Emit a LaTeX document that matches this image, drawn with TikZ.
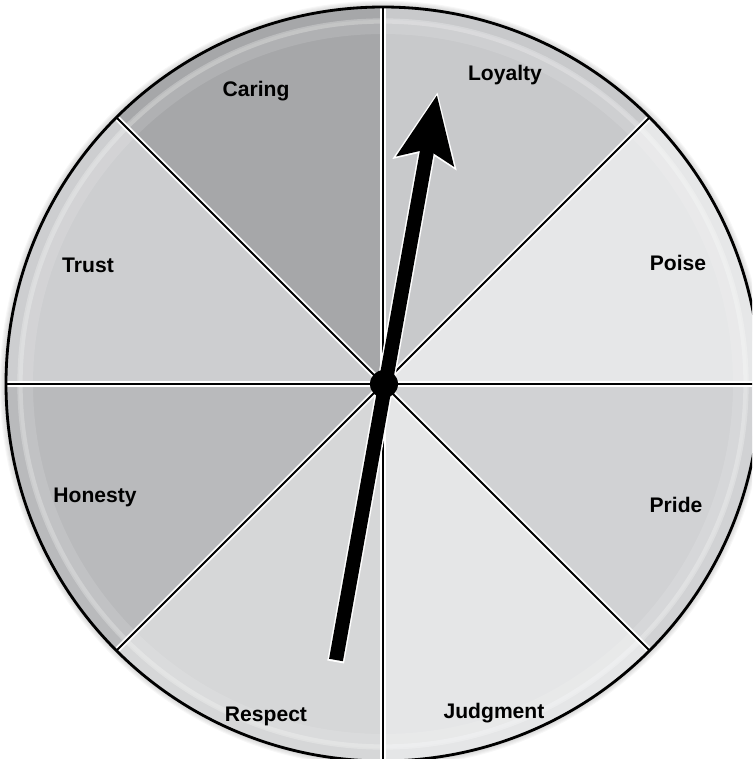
\documentclass[tikz,border=0pt]{standalone}
\usepackage{fontspec}
\setmainfont{Liberation Sans}
\usepackage{xcolor}
\usepackage{tikz}
\usetikzlibrary{arrows.meta, calc}

\definecolor{slLoyalty}{HTML}{C8C9CB}
\definecolor{slPoise}{HTML}{E6E7E8}
\definecolor{slPride}{HTML}{D1D2D4}
\definecolor{slJudgment}{HTML}{E5E6E7}
\definecolor{slRespect}{HTML}{D6D7D8}
\definecolor{slHonesty}{HTML}{B9BABC}
\definecolor{slTrust}{HTML}{CDCED0}
\definecolor{slCaring}{HTML}{A6A7A9}

\tikzset{
    word/.style={font=\fontsize{6}{7}\selectfont\bfseries, inner sep=0pt},
    spoke/.style={line width=0.6pt},
}

\begin{document}
\begin{tikzpicture}[>=latex]
    \def\R{3.77}
    % Khung hình
    \useasboundingbox (-3.83,-3.75) rectangle (3.69,3.84);
    \clip (-3.83,-3.75) rectangle (3.69,3.84);

    % Bóng mờ quanh vòng
    \foreach \k in {1,...,6}
        \draw[black, opacity=0.03, line width=\k*0.6pt] (0,0) circle (\R);

    % Các ô màu
    \foreach \a/\c in {0/slPoise, 45/slLoyalty, 90/slCaring, 135/slTrust,
                       180/slHonesty, 225/slRespect, 270/slJudgment, 315/slPride}
        \fill[\c] (0,0) -- (\a:\R) arc (\a:\a+45:\R) -- cycle;

    % Vòng sáng gần mép
    \draw[white, opacity=0.25, line width=1.5pt] (0,0) circle (\R-0.14);
    \draw[white, opacity=0.12, line width=4pt] (0,0) circle (\R-0.2);

    % Nan hoa
    \foreach \a in {0,45,...,315} {
        \coordinate (rim\a) at (\a:\R);
        \draw[white, line width=1.6pt] (0,0) -- (rim\a);
        \draw[spoke] (0,0) -- (rim\a);
    }

    % Vành ngoài
    \draw[line width=0.8pt] (0,0) circle (\R);

    % Chữ
    \node[word] (caring)   at (-1.27, 2.93) {Caring};
    \node[word] (loyalty)  at ( 1.22, 3.09) {Loyalty};
    \node[word] (poise)    at ( 2.95, 1.21) {Poise};
    \node[word] (trust)    at (-2.95, 1.19) {Trust};
    \node[word] (honesty)  at (-2.88,-1.13) {Honesty};
    \node[word] (pride)    at ( 2.93,-1.21) {Pride};
    \node[word] (respect)  at (-1.17,-3.32) {Respect};
    \node[word] (judgment) at ( 1.11,-3.29) {Judgment};

    % Kim quay
    \coordinate (tail) at (-0.47,-2.76);
    \coordinate (tip)  at ( 0.54, 2.89);
    \draw[white, line width=0.17cm, -{Stealth[length=0.72cm, width=0.62cm, inset=0.12cm]}]
        ($(tail)!-0.02cm!(tip)$) -- ($(tip)!-0.03cm!(tail)$);
    \draw[black, line width=0.14cm, -{Stealth[length=0.66cm, width=0.56cm, inset=0.11cm]}]
        (tail) -- (tip);

    % Trục
    \node[circle, fill=black, minimum size=0.28cm, inner sep=0pt] (hub) at (0.01,0) {};
\end{tikzpicture}
\end{document}
